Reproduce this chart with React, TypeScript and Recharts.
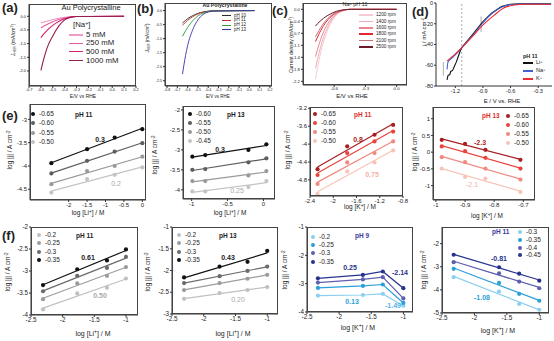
import React from "react";
import { ComposedChart, Line, Scatter, XAxis, YAxis, ReferenceLine } from "recharts";

const FONT = "Arial, 'Liberation Sans', sans-serif";

// ---------- (a) Au polycrystalline, varying [Na+] ----------
const aE = [-0.6, -0.575, -0.55, -0.5, -0.45, -0.4, -0.35, -0.3, 0.1];
const aNa5 = [-0.24, -0.21, -0.18, -0.12, -0.07, -0.04, -0.015, -0.005, 0];
const aNa250 = [-0.42, -0.36, -0.3, -0.2, -0.12, -0.06, -0.02, -0.005, 0];
const aNa500 = [-0.78, -0.64, -0.52, -0.33, -0.19, -0.09, -0.03, -0.01, 0];
const aNa1000 = [-1.98, -1.55, -1.18, -0.72, -0.36, -0.13, -0.04, -0.01, 0];
const aNames = ["5 mM", "250 mM", "500 mM", "1000 mM"];

// ---------- (b) Au polycrystalline, varying pH ----------
const bE = [-0.65, -0.62, -0.6, -0.55, -0.5, -0.45, -0.4, -0.35, 0.05];
const bPh10 = [-0.44, -0.35, -0.29, -0.18, -0.1, -0.05, -0.02, -0.01, 0];
const bPh11 = [-0.52, -0.42, -0.35, -0.22, -0.12, -0.06, -0.03, -0.01, 0];
const bPh12 = [-0.92, -0.72, -0.6, -0.36, -0.19, -0.09, -0.04, -0.01, 0];
const bPh13 = [-2.26, -1.6, -1.25, -0.68, -0.33, -0.14, -0.05, -0.02, 0];
const bNames = ["pH 10", "pH 11", "pH 12", "pH 13"];

// ---------- (c) rotation rate, Na+ pH 11 ----------
const cE = [-0.78, -0.76, -0.73, -0.7, -0.66, -0.62, -0.58, -0.54, -0.5, -0.45, 0.0];
const c1200 = [-2.09, -1.75, -1.3, -0.95, -0.6, -0.35, -0.18, -0.08, -0.03, 0, 0];
const c1400 = [-1.77, -1.5, -1.12, -0.82, -0.52, -0.3, -0.16, -0.07, -0.02, 0, 0];
const c1600 = [-1.42, -1.2, -0.9, -0.66, -0.42, -0.25, -0.13, -0.06, -0.02, 0, 0];
const c1800 = [-0.97, -0.83, -0.64, -0.48, -0.31, -0.19, -0.1, -0.05, -0.02, 0, 0];
const c2100 = [-0.82, -0.71, -0.55, -0.41, -0.27, -0.16, -0.09, -0.04, -0.01, 0, 0];
const c2500 = [-0.5, -0.43, -0.34, -0.26, -0.18, -0.11, -0.06, -0.03, -0.01, 0, 0];
const cNames = ["1200 rpm", "1400 rpm", "1600 rpm", "1800 rpm", "2100 rpm", "2500 rpm"];
const cTicksY = [0, -0.36, -0.72, -1.08, -1.44, -1.8, -2.16];

// ---------- (d) cations at pH 11 ----------
const dLiE = [-1.29, -1.28, -1.26, -1.25, -1.23, -1.21, -1.19, -1.17, -1.15, -1.13, -1.0, -0.91, -0.81, -0.7, -0.6, -0.5, -0.16];
const dLi = [-74, -70, -69, -66, -65, -61, -57, -52, -47, -43, -29, -19, -10, -3.5, -1.2, -0.8, -0.8];
const dNaE = [-1.29, -1.28, -1.25, -1.2, -1.13, -1.0, -0.91, -0.8, -0.7, -0.6, -0.5, -0.16];
const dNa = [-64, -57, -54, -50, -43, -30, -20, -10, -4, -1.5, -1, -1];
const dKE = [-1.29, -1.2, -1.13, -1.0, -0.91, -0.78, -0.68, -0.56, -0.45, -0.16];
const dK = [-56, -49, -43, -31, -22, -12, -5, -2, -1.2, -1.2];
const dNames = ["Li", "Na", "K"];

// ---------- (e) log|j| vs log[cation] ----------
const e1X = [-2.47, -1.5, -0.75, 0];
const e1S = [
  [-3.94, -3.64, -3.39, -3.21],
  [-4.16, -3.89, -3.69, -3.51],
  [-4.39, -4.11, -4.0, -3.8],
  [-4.57, -4.28, -4.19, -4.03],
];
const e1Names = ["-0.65", "-0.60", "-0.55", "-0.50"];

const e2X = [-0.99, -0.81, -0.21, 0.04];
const e2S = [
  [-3.17, -3.13, -3.0, -2.86],
  [-3.5, -3.48, -3.31, -3.21],
  [-3.78, -3.78, -3.64, -3.53],
  [-4.04, -4.04, -3.93, -3.78],
];
const e2Names = ["-0.60", "-0.55", "-0.50", "-0.45"];

const e3X = [-2.27, -1.76, -1.29, -0.97];
const e3S = [
  [-4.56, -4.05, -3.79, -3.57],
  [-4.69, -4.2, -3.94, -3.72],
  [-4.89, -4.41, -4.2, -3.94],
  [-5.11, -4.61, -4.41, -4.14],
];
const e3Names = ["-0.65", "-0.60", "-0.55", "-0.50"];

const e4X = [-0.98, -0.9, -0.83, -0.71];
const e4S = [
  [0.37, 0.25, 0.07, -0.23],
  [0.17, 0.03, -0.17, -0.49],
  [-0.15, -0.3, -0.49, -0.82],
  [-0.49, -0.74, -0.79, -1.19],
];
const e4Names = ["-0.65", "-0.60", "-0.55", "-0.50"];

// ---------- (f) ----------
const f1X = [-2.31, -1.77, -1.3, -1.0];
const f1S = [
  [-3.87, -3.51, -3.38, -3.17],
  [-3.64, -3.28, -3.11, -2.91],
  [-3.46, -3.11, -2.93, -2.68],
  [-3.32, -2.96, -2.76, -2.51],
];
const f1Names = ["-0.2", "-0.25", "-0.3", "-0.35"];

const f2X = [-2.31, -1.75, -1.31, -1.0];
const f2S = [
  [-2.65, -2.52, -2.45, -2.38],
  [-2.45, -2.29, -2.19, -2.1],
  [-2.29, -2.13, -2.01, -1.91],
  [-2.16, -1.91, -1.8, -1.55],
];
const f2Names = ["-0.2", "-0.25", "-0.3", "-0.35"];

const f3X = [-2.33, -1.63, -1.32, -1.0];
const f3S = [
  [-3.42, -3.4, -3.36, -3.78],
  [-3.15, -3.08, -3.03, -3.68],
  [-2.96, -2.85, -2.77, -3.52],
  [-2.81, -2.69, -2.57, -3.16],
];
const f3Names = ["-0.2", "-0.25", "-0.3", "-0.35"];

const f4X = [-2.32, -1.62, -1.31, -1.0];
const f4S = [
  [-3.45, -4.07, -4.61, -4.86],
  [-3.09, -3.7, -4.17, -4.47],
  [-2.8, -3.28, -3.64, -3.93],
  [-2.48, -3.02, -3.3, -3.6],
];
const f4Names = ["-0.3", "-0.35", "-0.4", "-0.45"];

// colours
const aCol = ["#f29ac6", "#e25b9c", "#d4236e", "#961d4e"];
const bCol = ["#2a2a2a", "#c0302a", "#2f9a3a", "#3434a8"];
const cCol = ["#f7cad2", "#f1adb7", "#e98592", "#e3262f", "#c4707a", "#6a1c28"];
const dCol = ["#111111", "#3d63d0", "#ec2a30"];
const grays = ["#111111", "#5e5e5e", "#9a9a9a", "#c4c4c4"];
const reds = ["#a81e22", "#e8443c", "#f08a80", "#f7c4b8"];
const fGrays = ["#c0c0c0", "#9c9c9c", "#6b6b6b", "#111111"];
const blues = ["#8ccfef", "#2a9fd8", "#5e5fae", "#27328c"];

const pts = (xs: number[], ys: number[]) => xs.map((x, i) => ({ x, y: ys[i] }));
const f1d = (v: number) => v.toFixed(1);

const L = 28;
const TOP = 4;
const R = 6;
const B = 14;

type PanelProps = {
  box: number[];
  xd: number[];
  yd: number[];
  xt: number[];
  yt: number[];
  fs: number;
  gap?: number;
  fmt?: (v: number) => string;
  yfmt?: (v: number) => string;
  frame?: boolean;
  children?: React.ReactNode;
};

function Panel({ box, xd, yd, xt, yt, fs, gap = 1, fmt, yfmt, frame = true, children }: PanelProps) {
  const [x0, y0, x1, y1] = box;
  const w = x1 - x0;
  const h = y1 - y0;
  const tick = { fontSize: fs, fill: "#222", fontFamily: FONT };
  return (
    <div style={{ position: "absolute", left: x0 - L, top: y0 - TOP }}>
      <ComposedChart width={w + L + R} height={h + TOP + B} margin={{ top: TOP, right: R, bottom: 0, left: 0 }}>
        <XAxis
          type="number"
          dataKey="x"
          domain={xd}
          ticks={xt}
          interval={0}
          allowDataOverflow
          height={B}
          tickSize={2}
          tickMargin={gap}
          tick={tick}
          stroke="#333"
          tickFormatter={fmt}
        />
        <YAxis
          type="number"
          dataKey="y"
          domain={yd}
          ticks={yt}
          interval={0}
          allowDataOverflow
          width={L}
          tickSize={2}
          tickMargin={1}
          tick={tick}
          stroke="#333"
          tickFormatter={yfmt}
        />
        {children}
      </ComposedChart>
      {frame ? (
        <div
          style={{
            position: "absolute",
            left: L,
            top: TOP,
            width: w,
            height: h,
            border: "1px solid #444",
            boxSizing: "border-box",
          }}
        />
      ) : null}
    </div>
  );
}

function curve(xs: number[], ys: number[], color: string, key: string, width = 1, type: "monotone" | "linear" = "monotone") {
  return (
    <Line
      key={key}
      data={pts(xs, ys)}
      dataKey="y"
      type={type}
      stroke={color}
      strokeWidth={width}
      dot={false}
      isAnimationActive={false}
    />
  );
}

function fit(xs: number[], ys: number[], color: string, key: string, joint = false) {
  return (
    <Scatter
      key={key}
      data={pts(xs, ys)}
      fill={color}
      line={{ stroke: color, strokeWidth: 1.2 }}
      lineType={joint ? "joint" : "fitting"}
      shape={(p: any) => <circle cx={p.cx} cy={p.cy} r={2.1} fill={color} />}
      isAnimationActive={false}
    />
  );
}

type TProps = { x: number; y: number; s?: number; c?: string; b?: boolean; a?: "l" | "c" | "r"; children?: React.ReactNode };
function T({ x, y, s = 6.5, c = "#222", b = false, a = "l", children }: TProps) {
  const tx = a === "c" ? "-50%" : a === "r" ? "-100%" : "0";
  return (
    <div
      style={{
        position: "absolute",
        left: x,
        top: y,
        transform: `translate(${tx},-50%)`,
        fontSize: s,
        color: c,
        fontWeight: b ? 700 : 400,
        whiteSpace: "nowrap",
        lineHeight: 1,
        fontFamily: FONT,
      }}
    >
      {children}
    </div>
  );
}

function V({ x, y, s = 6.5, children }: TProps) {
  return (
    <div
      style={{
        position: "absolute",
        left: x,
        top: y,
        transform: "translate(-50%,-50%) rotate(-90deg)",
        fontSize: s,
        color: "#222",
        whiteSpace: "nowrap",
        lineHeight: 1,
        fontFamily: FONT,
      }}
    >
      {children}
    </div>
  );
}

const Sup = ({ children }: { children: React.ReactNode }) => (
  <span style={{ fontSize: "0.7em", verticalAlign: "0.45em" }}>{children}</span>
);
const Sub = ({ children }: { children: React.ReactNode }) => (
  <span style={{ fontSize: "0.7em", verticalAlign: "-0.3em" }}>{children}</span>
);

function DotLegend({ x, ys, names, colors, s = 6.5 }: { x: number; ys: number[]; names: string[]; colors: string[]; s?: number }) {
  return (
    <>
      {names.map((n, i) => (
        <React.Fragment key={n + i}>
          <div
            style={{
              position: "absolute",
              left: x - 2.1,
              top: ys[i] - 2.1,
              width: 4.2,
              height: 4.2,
              borderRadius: "50%",
              background: colors[i],
            }}
          />
          <T x={x + 6} y={ys[i]} s={s}>
            {n}
          </T>
        </React.Fragment>
      ))}
    </>
  );
}

function LineLegend({ x0, x1, ys, names, colors, s, w = 1 }: { x0: number; x1: number; ys: number[]; names: React.ReactNode[]; colors: string[]; s: number; w?: number }) {
  return (
    <>
      {names.map((n, i) => (
        <React.Fragment key={i}>
          <div
            style={{
              position: "absolute",
              left: x0,
              top: ys[i] - w / 2,
              width: x1 - x0,
              height: w,
              background: colors[i],
            }}
          />
          <T x={x1 + 3} y={ys[i]} s={s}>
            {n}
          </T>
        </React.Fragment>
      ))}
    </>
  );
}

const yLog = (
  <>
    log |j| / A cm<Sup>-2</Sup>
  </>
);

export default function App() {
  const aSeries = [aNa5, aNa250, aNa500, aNa1000];
  const bSeries = [bPh10, bPh11, bPh12, bPh13];
  const cSeries = [c1200, c1400, c1600, c1800, c2100, c2500];
  return (
    <div style={{ position: "absolute", left: 0, top: 0, width: 554, height: 341, background: "#fff", overflow: "hidden", fontFamily: FONT }}>
      {/* (a) */}
      <Panel box={[29, 4, 136, 86]} xd={[-0.7, 0.2]} yd={[-2.55, 0.45]} xt={[-0.7, -0.6, -0.5, -0.4, -0.3, -0.2, -0.1, 0, 0.1, 0.2]} yt={[0, -0.5, -1, -1.5, -2]} fs={4} gap={0} fmt={f1d} yfmt={f1d}>
        {aSeries.map((s, i) => curve(aE, s, aCol[i], "a" + i, 1.1))}
      </Panel>
      {/* (b) */}
      <Panel box={[165, 3, 272, 86]} xd={[-0.82, 0.22]} yd={[-2.69, 0.27]} xt={[-0.8, -0.7, -0.6, -0.5, -0.4, -0.3, -0.2, -0.1, 0, 0.1, 0.2]} yt={[0, -0.5, -1, -1.5, -2, -2.5]} fs={3.6} gap={0} fmt={f1d} yfmt={f1d}>
        {bSeries.map((s, i) => curve(bE, s, bCol[i], "b" + i, 0.9))}
      </Panel>
      {/* (c) */}
      <Panel box={[303, 3, 407, 85]} xd={[-0.9, 0.1]} yd={[-2.27, 0.19]} xt={[-0.6, -0.3, 0]} yt={cTicksY} fs={4.3} gap={0} fmt={f1d} yfmt={f1d}>
        {cSeries.map((s, i) => curve(cE, s, cCol[i], "c" + i, 1))}
      </Panel>
      {/* (d) */}
      <Panel box={[436, 3, 552, 86]} xd={[-1.41, -0.15]} yd={[-80, 0]} xt={[-1.2, -0.9, -0.6, -0.3]} yt={[0, -20, -40, -60, -80]} fs={5.5} fmt={f1d} frame={false}>
        {[
          <ReferenceLine key="dv" x={-1.13} stroke="#999" strokeDasharray="2 2" strokeWidth={0.8} />,
          <ReferenceLine key="ar1" segment={[{ x: -1.33, y: -70 }, { x: -1.33, y: -57 }]} stroke="#888" strokeWidth={0.7} />,
          <ReferenceLine key="ar2" segment={[{ x: -0.92, y: -28 }, { x: -0.92, y: -13 }]} stroke="#888" strokeWidth={0.7} />,
          curve(dLiE, dLi, dCol[0], "dli", 1.1, "linear"),
          curve(dNaE, dNa, dCol[1], "dna", 1.1, "monotone"),
          curve(dKE, dK, dCol[2], "dk", 1.1, "monotone"),
        ]}
      </Panel>

      {/* (e) */}
      <Panel box={[30, 104, 146, 200]} xd={[-3.05, 0.1]} yd={[-4.73, -2.67]} xt={[-2, -1.5, -1, -0.5, 0]} yt={[-3, -3.5, -4, -4.5]} fs={6}>
        {e1S.map((s, i) => fit(e1X, s, grays[i], "e1" + i))}
      </Panel>
      <Panel box={[183, 106, 275, 199]} xd={[-1.12, 0.16]} yd={[-4.23, -1.9]} xt={[-1, -0.5, 0]} yt={[-2, -2.5, -3, -3.5, -4]} fs={6}>
        {e2S.map((s, i) => fit(e2X, s, grays[i], "e2" + i))}
      </Panel>
      <Panel box={[310, 107, 403, 196]} xd={[-2.4, -0.8]} yd={[-5.16, -3.17]} xt={[-2.4, -2, -1.6, -1.2, -0.8]} yt={[-3.2, -3.6, -4, -4.4, -4.8]} fs={6}>
        {e3S.map((s, i) => fit(e3X, s, reds[i], "e3" + i))}
      </Panel>
      <Panel box={[433, 107, 535, 200]} xd={[-1.01, -0.66]} yd={[-1.43, 1.35]} xt={[-1, -0.9, -0.8, -0.7]} yt={[1, 0.5, 0, -0.5, -1]} fs={6}>
        {e4S.map((s, i) => fit(e4X, s, reds[i], "e4" + i))}
      </Panel>

      {/* (f) */}
      <Panel box={[31, 227, 138, 315]} xd={[-2.5, -0.81]} yd={[-4, -2]} xt={[-2.5, -2, -1.5, -1]} yt={[-2, -2.5, -3, -3.5, -4]} fs={6.3}>
        {f1S.map((s, i) => fit(f1X, s, fGrays[i], "f1" + i))}
      </Panel>
      <Panel box={[172, 227, 278, 314]} xd={[-2.5, -0.83]} yd={[-3, -1]} xt={[-2.5, -2, -1.5, -1]} yt={[-1, -1.5, -2, -2.5, -3]} fs={6.3}>
        {f2S.map((s, i) => fit(f2X, s, fGrays[i], "f2" + i))}
      </Panel>
      <Panel box={[307, 227, 413, 312]} xd={[-2.5, -0.85]} yd={[-4, -1]} xt={[-2.5, -2, -1.5, -1]} yt={[-1, -2, -3, -4]} fs={6.3}>
        {f3S.map((s, i) => fit(f3X, s, blues[i], "f3" + i, true))}
      </Panel>
      <Panel box={[442, 227, 549, 313]} xd={[-2.5, -0.85]} yd={[-5, -1.28]} xt={[-2.5, -2, -1.5, -1]} yt={[-2, -3, -4, -5]} fs={6.3}>
        {f4S.map((s, i) => fit(f4X, s, blues[i], "f4" + i))}
      </Panel>

      {/* panel letters */}
      <T x={2} y={7} s={13} b>(a)</T>
      <T x={137} y={8} s={13} b>(b)</T>
      <T x={272} y={10} s={13} b>(c)</T>
      <T x={412} y={11} s={13} b>(d)</T>
      <T x={2} y={115} s={13} b>(e)</T>
      <T x={2} y={235} s={13} b>(f)</T>

      {/* (a) texts */}
      <T x={91} y={8} s={7.5} a="c">Au Polycrystalline</T>
      <T x={73} y={25} s={7.8}>[Na<Sup>+</Sup>]</T>
      <LineLegend x0={69} x1={83} ys={[35, 43.3, 51.8, 60.5]} names={aNames} colors={aCol} s={7.8} w={1.2} />
      <T x={83} y={96} s={5} a="c">E/V vs RHE</T>
      <V x={14} y={40} s={5}>
        J<Sub>HER</Sub> (mA/cm<Sup>2</Sup>)
      </V>

      {/* (b) texts */}
      <T x={225} y={6} s={5.2} a="c" b>Au Polycrystalline</T>
      <LineLegend x0={222} x1={231} ys={[15.7, 20.3, 25, 29.7]} names={bNames} colors={bCol} s={4.5} w={1} />
      <T x={218} y={97} s={4.5} a="c">E/V vs RHE</T>
      <V x={148} y={38} s={4.5}>
        J<Sub>HER</Sub> (mA/cm<Sup>2</Sup>)
      </V>

      {/* (c) texts */}
      <T x={355} y={5} s={5.5} a="c">Na<Sup>+</Sup> pH 11</T>
      <LineLegend x0={359} x1={373} ys={[15, 21.5, 27.8, 34.2, 40.7, 47.2]} names={cNames} colors={cCol} s={4.7} w={1.6} />
      <T x={352} y={96} s={6} a="c">E/V vs RHE</T>
      <V x={291} y={45} s={5}>
        Current density (mA/cm<Sup>2</Sup>)
      </V>

      {/* (d) texts */}
      <T x={523} y={57} s={5.5} b>pH 11</T>
      <LineLegend
        x0={523}
        x1={533}
        ys={[63, 71, 79]}
        names={dNames.map((n) => (
          <>
            {n}
            <Sup>+</Sup>
          </>
        ))}
        colors={dCol}
        s={5.5}
        w={1.3}
      />
      <T x={502} y={101} s={6} a="c">E / V vs. RHE</T>
      <V x={424} y={32} s={6}>
        j / mA cm<Sup>-2</Sup>
      </V>

      {/* (e) texts */}
      <DotLegend x={33} ys={[114, 123.3, 132.7, 141.7]} names={e1Names} colors={grays} />
      <T x={75} y={115} s={6.5} b>pH 11</T>
      <T x={100} y={139} s={7} b a="c">0.3</T>
      <T x={116} y={183} s={7} c="#aaa" a="c">0.2</T>
      <T x={88} y={213} s={6.5} a="c">log [Li<Sup>+</Sup>] / M</T>
      <V x={10} y={150}>{yLog}</V>

      <DotLegend x={190} ys={[114, 122.7, 131.7, 140.7]} names={e2Names} colors={grays} />
      <T x={227} y={115} s={6.5} b>pH 13</T>
      <T x={220} y={149} s={7} b a="c">0.3</T>
      <T x={237} y={190} s={7} c="#aaa" a="c">0.25</T>
      <T x={230} y={213} s={6.5} a="c">log [Li<Sup>+</Sup>] / M</T>
      <V x={155} y={155}>{yLog}</V>

      <DotLegend x={315} ys={[114, 122.7, 131.7, 140.7]} names={e3Names} colors={reds} />
      <T x={354} y={115} s={6.5} b c="#e0302a">pH 11</T>
      <T x={358} y={139} s={7} b c={reds[0]} a="c">0.8</T>
      <T x={372} y={174} s={7} b c="#f4b2a6" a="c">0.75</T>
      <T x={360} y={207} s={6.5} a="c">log [K<Sup>+</Sup>] / M</T>
      <V x={288} y={150}>{yLog}</V>

      <T x={482} y={116} s={6.5} b c="#e0302a">pH 13</T>
      <DotLegend x={508} ys={[116, 125, 134, 143.3]} names={e4Names} colors={reds} />
      <T x={480} y={142} s={7} b c={reds[0]} a="c">-2.3</T>
      <T x={472} y={184} s={7} c="#f4b2a6" a="c">-2.1</T>
      <T x={487} y={216} s={6.5} a="c">log [K<Sup>+</Sup>] / M</T>
      <V x={415} y={152}>{yLog}</V>

      {/* (f) texts */}
      <DotLegend x={39} ys={[235, 243.3, 251.7, 260]} names={f1Names} colors={fGrays} />
      <T x={76} y={236} s={6.5} b>pH 11</T>
      <T x={88} y={257} s={7} b a="c">0.61</T>
      <T x={100} y={295} s={7} b c="#aaa" a="c">0.50</T>
      <T x={93} y={333} s={7} a="c">log [Li<Sup>+</Sup>] / M</T>
      <V x={8} y={272}>{yLog}</V>

      <DotLegend x={179} ys={[235, 243.3, 251.7, 260]} names={f2Names} colors={fGrays} />
      <T x={219} y={236} s={6.5} b>pH 13</T>
      <T x={228} y={257} s={7} b a="c">0.43</T>
      <T x={238} y={299} s={7} c="#aaa" a="c">0.20</T>
      <T x={233} y={333} s={7} a="c">log [Li<Sup>+</Sup>] / M</T>
      <V x={148} y={272}>{yLog}</V>

      <DotLegend x={313} ys={[236.7, 245, 253.3, 261.7]} names={f3Names} colors={blues} />
      <T x={355} y={236} s={6.5} b c="#3a3aa0">pH 9</T>
      <T x={350} y={267} s={7} b c={blues[3]} a="c">0.25</T>
      <T x={400} y={272} s={7} b c={blues[3]} a="c">-2.14</T>
      <T x={352} y={301} s={7} b c={blues[1]} a="c">0.13</T>
      <T x={393} y={305} s={7} b c="#4fb3e6" a="c">-1.49</T>
      <T x={358} y={327} s={7} a="c">log [K<Sup>+</Sup>] / M</T>
      <V x={285} y={270}>{yLog}</V>

      <T x={492} y={232} s={6.5} b c="#3a3aa0">pH 11</T>
      <DotLegend x={520} ys={[232.3, 240, 247.7, 255]} names={f4Names} colors={blues} />
      <T x={499} y={258} s={7} b c={blues[3]} a="c">-0.81</T>
      <T x={482} y={297} s={7} b c={blues[1]} a="c">-1.08</T>
      <T x={498} y={330} s={7} a="c">log [K<Sup>+</Sup>] / M</T>
      <V x={424} y={270}>{yLog}</V>
    </div>
  );
}
